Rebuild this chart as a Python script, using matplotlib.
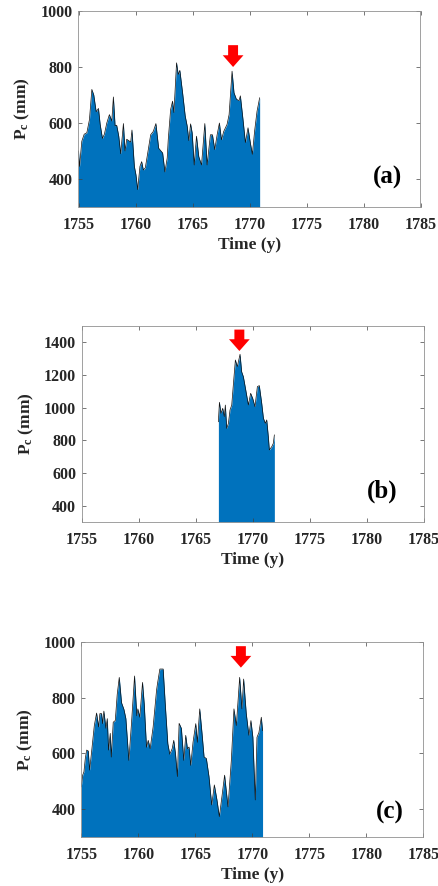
import matplotlib
matplotlib.use("Agg")
import matplotlib.pyplot as plt

plt.rcParams['font.family'] = ['Liberation Serif', 'DejaVu Serif']
plt.rcParams['font.weight'] = 'bold'
plt.rcParams['mathtext.fontset'] = 'custom'
plt.rcParams['mathtext.rm'] = 'Liberation Serif:bold'
plt.rcParams['mathtext.bf'] = 'Liberation Serif:bold'
plt.rcParams['mathtext.it'] = 'Liberation Serif:bold'

x_ticks = [1755, 1760, 1765, 1770, 1775, 1780, 1785]

years_a = [1755.00,1755.09,1755.29,1755.50,1755.73,1755.96,1756.17,1756.34,1756.55,1756.75,1756.90,1757.10,1757.27,1757.48,1757.71,1757.92,1758.06,1758.21,1758.35,1758.53,1758.70,1758.94,1759.08,1759.23,1759.58,1759.69,1759.90,1760.04,1760.19,1760.39,1760.54,1760.69,1760.86,1761.12,1761.33,1761.56,1761.79,1762.03,1762.38,1762.58,1762.78,1762.87,1763.08,1763.25,1763.37,1763.60,1763.75,1763.89,1764.13,1764.36,1764.53,1764.68,1764.83,1764.97,1765.15,1765.35,1765.55,1765.79,1766.08,1766.28,1766.57,1766.75,1766.95,1767.16,1767.36,1767.54,1767.74,1768.03,1768.21,1768.47,1768.64,1768.85,1769.08,1769.20,1769.43,1769.64,1769.87,1770.07,1770.25,1770.45,1770.66,1770.89]
pc_a = [500,445,535,560,565,612,720,700,640,652,595,545,560,600,630,607,693,590,592,553,490,598,500,542,532,575,445,415,362,445,462,432,440,505,558,570,598,510,493,425,475,540,648,678,637,815,773,788,708,625,590,537,597,565,450,553,480,450,598,450,558,558,505,558,600,540,570,595,630,785,708,685,680,697,612,530,583,530,488,572,642,690]

years_b = [1766.99,1767.08,1767.22,1767.37,1767.51,1767.60,1767.72,1767.87,1768.01,1768.16,1768.30,1768.48,1768.65,1768.89,1769.03,1769.18,1769.39,1769.62,1769.82,1770.00,1770.20,1770.41,1770.58,1770.79,1770.94,1771.11,1771.23,1771.37,1771.46,1771.67,1771.81,1771.90]
pc_b = [914,1033,965,996,945,1016,873,904,986,1016,1139,1292,1251,1327,1220,1190,1108,1016,1088,1057,1006,1129,1135,1027,935,904,925,822,741,761,782,833]

years_c = [1755.00,1755.12,1755.23,1755.35,1755.47,1755.61,1755.73,1755.90,1756.14,1756.34,1756.52,1756.63,1756.78,1756.87,1756.98,1757.16,1757.28,1757.39,1757.54,1757.63,1757.80,1757.98,1758.15,1758.33,1758.53,1758.74,1758.91,1759.17,1759.40,1759.67,1759.87,1759.96,1760.13,1760.37,1760.52,1760.72,1760.87,1761.04,1761.30,1761.60,1761.68,1761.89,1762.18,1762.38,1762.59,1762.76,1762.97,1763.11,1763.26,1763.43,1763.58,1763.78,1763.99,1764.16,1764.31,1764.45,1764.60,1764.80,1765.04,1765.18,1765.39,1765.59,1765.77,1765.97,1766.20,1766.44,1766.67,1766.90,1767.11,1767.28,1767.57,1767.87,1768.16,1768.39,1768.60,1768.89,1769.09,1769.24,1769.47,1769.70,1769.88,1770.05,1770.26,1770.41,1770.58,1770.79,1770.90]
pc_c = [480,522,534,582,612,609,540,605,700,745,695,743,743,707,752,690,725,612,672,587,712,718,812,873,782,758,725,575,707,878,735,760,730,855,778,622,647,617,695,827,850,903,903,767,635,597,617,647,600,517,708,690,575,665,617,623,557,640,707,640,760,672,587,582,517,415,487,433,373,427,522,408,575,760,700,873,760,867,743,665,718,658,433,658,675,730,682]

panels = [
    dict(rect=(78.5, 11, 342, 196), x=years_a, y=pc_a, ylim=(300, 1000), yticks=[400, 600, 800, 1000],
         arrow=(1768.56, 800, 878), label='(a)', lab=(0.861, 0.153)),
    dict(rect=(81.7, 326, 342, 196), x=years_b, y=pc_b, ylim=(300, 1500), yticks=[400, 600, 800, 1000, 1200, 1400],
         arrow=(1768.83, 1347, 1478), label='(b)', lab=(0.834, 0.158)),
    dict(rect=(81.3, 642, 342, 195), x=years_c, y=pc_c, ylim=(300, 1000), yticks=[400, 600, 800, 1000],
         arrow=(1769.0, 908, 985), label='(c)', lab=(0.86, 0.128)),
]

W, H = 439, 886
fig = plt.figure(figsize=(W / 100, H / 100), dpi=100)
for p in panels:
    l, t, w, h = p['rect']
    ax = fig.add_axes([l / W, 1 - (t + h) / H, w / W, h / H])
    ax.fill_between(p['x'], p['y'], p['ylim'][0], color='#0072BD', lw=0)
    ax.plot(p['x'], p['y'], color='#101010', lw=0.5)
    ax.set_xlim(1755, 1785)
    ax.set_ylim(*p['ylim'])
    ax.set_xticks(x_ticks)
    ax.set_yticks(p['yticks'])
    ax.tick_params(axis='x', direction='in', top=True, length=3, width=0.5,
                   color='#404040', labelsize=11.5, pad=7, labelcolor='#262626')
    ax.tick_params(axis='y', direction='in', right=True, length=3, width=0.5,
                   color='#404040', labelsize=11.5, pad=4, labelcolor='#262626')
    for s in ax.spines.values():
        s.set_linewidth(0.6)
        s.set_color('#909090')
    ax.set_xlabel('Time (y)', fontsize=12.5, fontweight='bold', color='#262626', labelpad=3)
    ax.set_ylabel(r'$\mathrm{P_c}$ (mm)', fontsize=12.5, fontweight='bold', color='#262626', labelpad=6)
    ax.text(*p['lab'], p['label'], transform=ax.transAxes, fontsize=18, fontweight='bold',
            color='black', ha='left', va='center')
    ax_x, tip, top = p['arrow']
    ax.annotate('', xy=(ax_x, tip), xytext=(ax_x, top),
                arrowprops=dict(arrowstyle='simple,head_width=1.15,head_length=0.65,tail_width=0.55',
                                color='#FF0000', lw=0, shrinkA=0, shrinkB=0, mutation_scale=13))
fig.savefig('out.png', dpi=100)
